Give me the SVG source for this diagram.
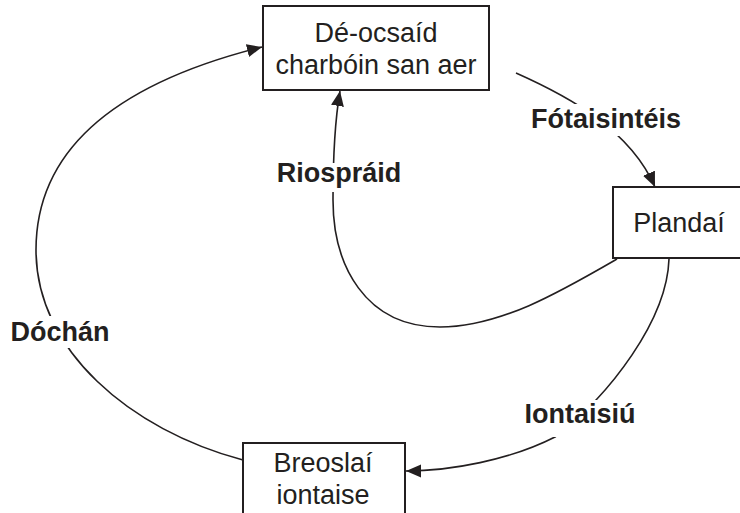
<svg xmlns="http://www.w3.org/2000/svg" width="740" height="513" viewBox="0 0 740 513">
<style>
.box{fill:#fff;stroke:#231f20;stroke-width:2}
.t{font-family:"Liberation Sans",Arial,sans-serif;font-size:27px;fill:#231f20;text-anchor:middle}
.lb{font-family:"Liberation Sans",Arial,sans-serif;font-size:27px;font-weight:bold;fill:#231f20;text-anchor:middle}
.c{fill:none;stroke:#231f20;stroke-width:1.6}
.bg{fill:#fff}
</style>
<defs>
<marker id="ah" markerUnits="userSpaceOnUse" markerWidth="16" markerHeight="14" refX="15" refY="6.5" orient="auto">
<path d="M0,0 L15,6.5 L0,13 z" fill="#231f20"/>
</marker>
</defs>
<rect width="740" height="513" fill="#fff"/>
<g id="connectors">
<path class="c" d="M516,73 C570,97 630,130 655,187" marker-end="url(#ah)"/>
<path class="c" d="M617,259 C560,292 500,327 440,327 C365,327 333,265 333,200 C333,150 335,120 340,91" marker-end="url(#ah)"/>
<path class="c" d="M669,259 C667,320 610,395 555,437 C510,460 450,471 406,471" marker-end="url(#ah)"/>
<path class="c" d="M243,460 C130,430 36,350 36,250 C36,130 150,75 262,47" marker-end="url(#ah)"/>
</g>
<g id="labels">
<rect class="bg" x="522" y="104" width="168" height="32"/>
<text class="lb" x="606" y="128">Fótaisintéis</text>
<rect class="bg" x="272" y="163" width="132" height="29"/>
<text class="lb" x="339" y="182">Riospráid</text>
<rect class="bg" x="518" y="400" width="122" height="37"/>
<text class="lb" x="580" y="423">Iontaisiú</text>
<rect class="bg" x="6" y="316" width="108" height="32"/>
<text class="lb" x="60" y="341">Dóchán</text>
</g>
<g id="node-air">
<rect class="box" x="263" y="6" width="226" height="84"/>
<text class="t" x="376" y="42">Dé-ocsaíd</text>
<text class="t" x="376" y="74">charbóin san aer</text>
</g>
<g id="node-plants">
<rect class="box" x="613" y="187" width="140" height="71"/>
<text class="t" x="679" y="232">Plandaí</text>
</g>
<g id="node-fossil">
<rect class="box" x="243" y="443" width="162" height="80"/>
<text class="t" x="323" y="472">Breoslaí</text>
<text class="t" x="323" y="504">iontaise</text>
</g>
</svg>
